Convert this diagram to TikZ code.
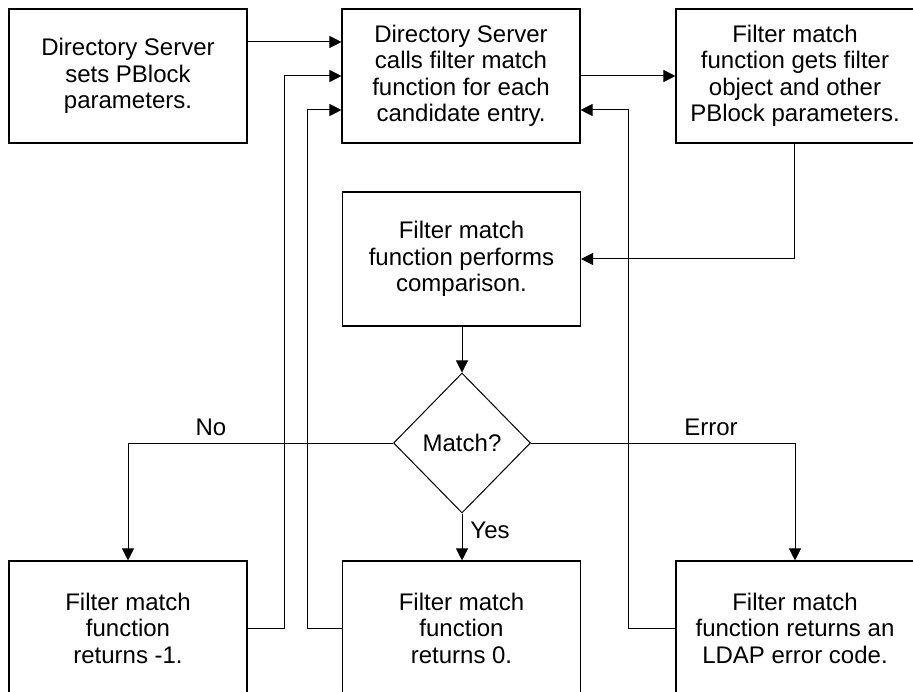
\documentclass[tikz,border=0pt]{standalone}
\usepackage{fontspec}
\setmainfont{Liberation Sans}
\usetikzlibrary{shapes.geometric,arrows.meta}
\begin{document}
\begin{tikzpicture}[x=1pt,y=-1pt,
  every node/.style={font=\fontsize{24}{26.5}\selectfont},
  box/.style={draw,line width=1.1pt,minimum width=238pt,minimum height=134pt,inner sep=0pt,align=center},
  dec/.style={draw,diamond,line width=1pt,minimum width=137pt,minimum height=140pt,inner sep=0pt},
  arr/.style={draw,line width=1pt,-{Triangle[length=12pt,width=12pt]}},
  lbl/.style={inner sep=0pt}]
\useasboundingbox (0,0) rectangle (913,692);
\node[box] (A) at (128,76) {Directory Server\\sets PBlock\\parameters.};
\node[box] (B) at (461,76) {Directory Server\\calls filter match\\function for each\\candidate entry.};
\node[box] (C) at (795,76) {Filter match\\function gets filter\\object and other\\PBlock parameters.};
\node[box] (D) at (461.5,259) {Filter match\\function performs\\comparison.};
\node[dec] (M) at (462,443) {Match?};
\node[box] (E) at (128,628) {Filter match\\function\\returns -1.};
\node[box] (F) at (461.5,628) {Filter match\\function\\returns 0.};
\node[box] (G) at (795,628) {Filter match\\function returns an\\LDAP error code.};
\node[lbl] (no) at (211,427) {No};
\node[lbl] (err) at (711,427) {Error};
\node[lbl] (yes) at (490,530) {Yes};
\draw[arr] (A.east |- 0,42) -- (B.west |- 0,42);
\draw[arr] (B.east) -- (C.west);
\draw[arr] (C.south -| 794,0) |- (D.east);
\draw[arr] (D.south -| M.north) -- (M.north);
\draw[arr] (M.west) -| (E.north);
\draw[arr] (M.east) -| (G.north);
\draw[arr] (M.south) -- (F.north -| M.south);
\draw[arr] (E.east) -| (284,76) -- (B.west);
\draw[arr] (F.west) -| (307,110) -- (B.west |- 0,110);
\draw[arr] (G.west) -| (628,110) -- (B.east |- 0,110);
\end{tikzpicture}
\end{document}
